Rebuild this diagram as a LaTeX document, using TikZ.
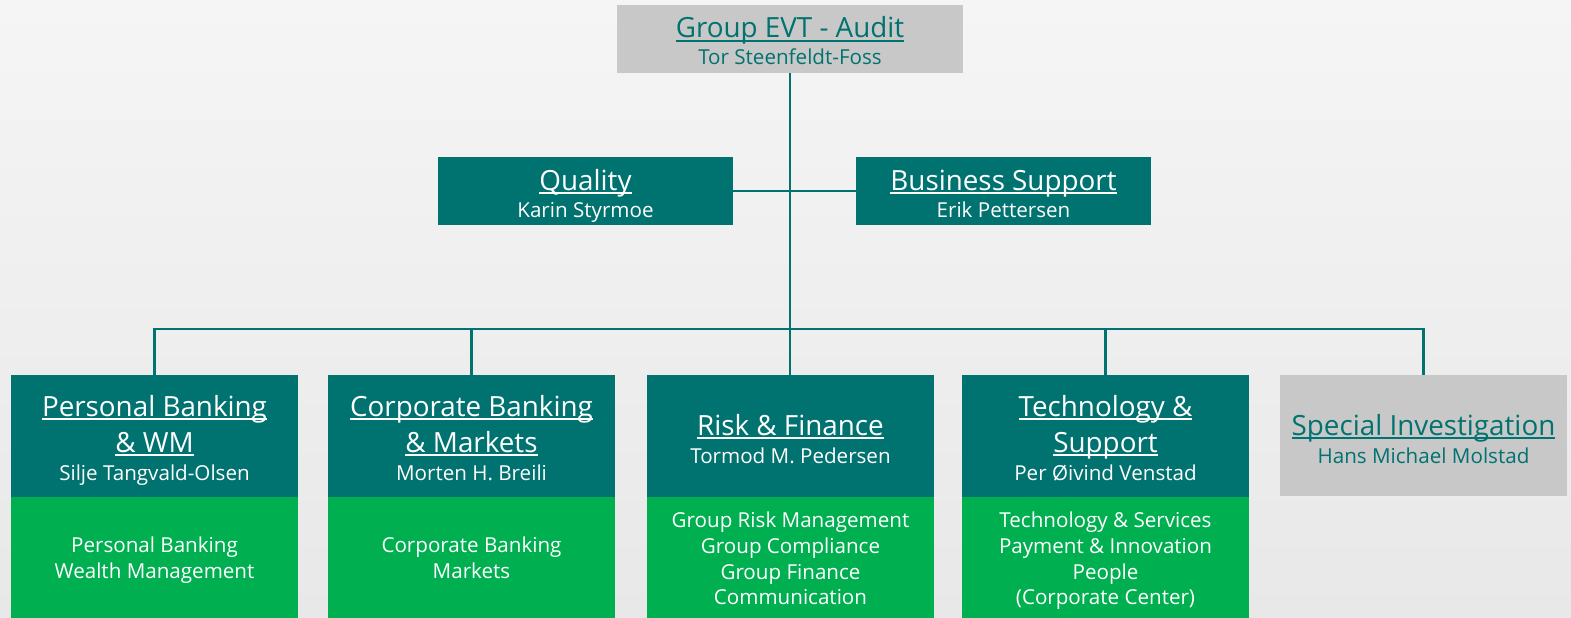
\documentclass[tikz,border=0pt]{standalone}
\usepackage{fontspec}
\setmainfont{Open Sans}
\definecolor{evtteal}{RGB}{0,114,112}
\definecolor{evtgreen}{RGB}{0,176,80}
\definecolor{evtgray}{RGB}{200,200,200}
\newsavebox\ulbox
\newcommand\myul[1]{\sbox\ulbox{#1}\rlap{\rule[-3.8pt]{\wd\ulbox}{1.5pt}}\usebox\ulbox}
\tikzset{
  box/.style={inner sep=0pt, outer sep=0pt, anchor=north west, minimum width=#1},
  boxw/.style={box=287pt, minimum height=122pt},
  ttl/.style={anchor=base, inner sep=0pt, font=\fontsize{27.8}{32}\selectfont},
  nm/.style={anchor=base, inner sep=0pt, font=\fontsize{20.6}{24}\selectfont},
  conn/.style={draw=evtteal, line width=2.6pt}
}
\begin{document}
\begin{tikzpicture}[x=1pt,y=-1pt]
\useasboundingbox (0,0) rectangle (1571,618);
\fill[top color={rgb,255:red,245;green,245;blue,245}, bottom color={rgb,255:red,232;green,232;blue,232}] (0,0) rectangle (1571,618);

% boxes
\node[box=346pt, minimum height=68pt, fill=evtgray] (top) at (617,5) {};
\node[box=295pt, minimum height=68pt, fill=evtteal] (qual) at (438,157) {};
\node[box=295pt, minimum height=68pt, fill=evtteal] (bs) at (856,157) {};
\node[boxw, fill=evtteal] (pbh) at (11,375) {};
\node[boxw, fill=evtgreen] (pbg) at (11,497) {};
\node[boxw, fill=evtteal] (cbh) at (328,375) {};
\node[boxw, fill=evtgreen] (cbg) at (328,497) {};
\node[boxw, fill=evtteal] (rfh) at (647,375) {};
\node[boxw, fill=evtgreen] (rfg) at (647,497) {};
\node[boxw, fill=evtteal] (tsh) at (962,375) {};
\node[boxw, fill=evtgreen] (tsg) at (962,497) {};
\node[box=287pt, minimum height=121pt, fill=evtgray] (sih) at (1280,375) {};

% connectors
\coordinate (bus) at (790,329);
\draw[conn] (top.south) -- (top.south |- rfh.north);
\draw[conn] (qual.east) -- (bs.west);
\draw[conn] (pbh.north) -- (pbh.north |- bus) -- (sih.north |- bus) -- (sih.north);
\draw[conn] (cbh.north) -- (cbh.north |- bus);
\draw[conn] (tsh.north) -- (tsh.north |- bus);

% texts
\node[ttl, text=evtteal] (topt) at (790,38) {\myul{Group EVT - Audit}};
\node[nm, text=evtteal] (topn) at (790,65) {Tor Steenfeldt-Foss};
\node[ttl, text=white] (qualt) at (585.5,190) {\myul{Quality}};
\node[nm, text=white] (qualn) at (585.5,217) {Karin Styrmoe};
\node[ttl, text=white] (bst) at (1003.5,190) {\myul{Business Support}};
\node[nm, text=white] (bsn) at (1003.5,217) {Erik Pettersen};

\node[ttl, text=white] (pbt1) at (154.5,416) {\myul{Personal Banking}};
\node[ttl, text=white] (pbt2) at (154.5,452) {\myul{\& WM}};
\node[nm, text=white] (pbn) at (154.5,480) {Silje Tangvald-Olsen};
\node[ttl, text=white] (cbt1) at (471.5,416) {\myul{Corporate Banking}};
\node[ttl, text=white] (cbt2) at (471.5,452) {\myul{\& Markets}};
\node[nm, text=white] (cbn) at (471.5,480) {Morten H. Breili};
\node[ttl, text=white] (rft) at (790.5,435) {\myul{Risk \& Finance}};
\node[nm, text=white] (rfn) at (790.5,463) {Tormod M. Pedersen};
\node[ttl, text=white] (tst1) at (1105.5,416) {\myul{Technology \&}};
\node[ttl, text=white] (tst2) at (1105.5,452) {\myul{Support}};
\node[nm, text=white] (tsn) at (1105.5,480) {Per Øivind Venstad};
\node[ttl, text=evtteal] (sit) at (1423.5,435) {\myul{Special Investigation}};
\node[nm, text=evtteal] (sin) at (1423.5,463) {Hans Michael Molstad};

\node[nm, text=white] (pbg1) at (154.5,552) {Personal Banking};
\node[nm, text=white] (pbg2) at (154.5,578) {Wealth Management};
\node[nm, text=white] (cbg1) at (471.5,552) {Corporate Banking};
\node[nm, text=white] (cbg2) at (471.5,578) {Markets};
\node[nm, text=white] (rfg1) at (790.5,527) {Group Risk Management};
\node[nm, text=white] (rfg2) at (790.5,553) {Group Compliance};
\node[nm, text=white] (rfg3) at (790.5,579) {Group Finance};
\node[nm, text=white] (rfg4) at (790.5,604) {Communication};
\node[nm, text=white] (tsg1) at (1105.5,527) {Technology \& Services};
\node[nm, text=white] (tsg2) at (1105.5,553) {Payment \& Innovation};
\node[nm, text=white] (tsg3) at (1105.5,579) {People};
\node[nm, text=white] (tsg4) at (1105.5,604) {(Corporate Center)};
\end{tikzpicture}
\end{document}
